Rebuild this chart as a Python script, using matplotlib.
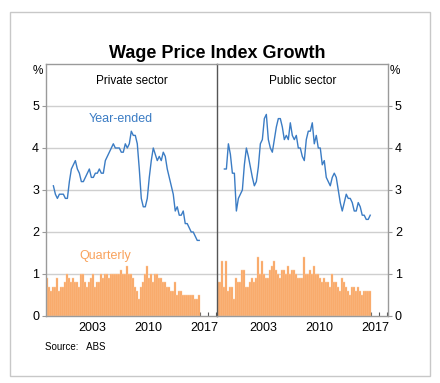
import numpy as np
import matplotlib.pyplot as plt
from matplotlib.patches import Rectangle

plt.rcParams['font.family'] = ['Liberation Sans', 'DejaVu Sans']

# year-ended growth, Sep 1998 to Dec 2016
private_ye = [3.1, 2.9, 2.8, 2.9, 2.9, 2.9, 2.8, 2.8, 3.2, 3.5,
              3.6, 3.7, 3.5, 3.4, 3.2, 3.2, 3.3, 3.4, 3.5, 3.3,
              3.3, 3.4, 3.4, 3.5, 3.4, 3.4, 3.7, 3.8, 3.9, 4.0,
              4.1, 4.0, 4.0, 4.0, 3.9, 3.9, 4.1, 4.0, 4.1, 4.4,
              4.3, 4.3, 4.1, 3.5, 2.8, 2.6, 2.6, 2.8, 3.3, 3.7,
              4.0, 3.85, 3.7, 3.8, 3.7, 3.9, 3.8, 3.5, 3.3, 3.1,
              2.9, 2.5, 2.6, 2.4, 2.4, 2.5, 2.2, 2.2, 2.1, 2.0,
              2.0, 1.9, 1.8, 1.8]
public_ye = [3.5, 3.5, 4.1, 3.85, 3.4, 3.4, 2.5, 2.8, 2.9, 3.0,
             3.6, 4.0, 3.8, 3.55, 3.3, 3.1, 3.2, 3.55, 4.1, 4.2,
             4.7, 4.8, 4.2, 4.0, 3.9, 4.2, 4.5, 4.7, 4.7, 4.5,
             4.2, 4.3, 4.2, 4.6, 4.3, 4.2, 4.3, 4.0, 4.0, 3.8,
             3.7, 4.2, 4.4, 4.4, 4.6, 4.1, 4.3, 4.0, 4.0, 3.6,
             3.7, 3.3, 3.2, 3.1, 3.3, 3.4, 3.3, 3.0, 2.7, 2.5,
             2.7, 2.9, 2.8, 2.8, 2.7, 2.5, 2.5, 2.7, 2.6, 2.4,
             2.4, 2.3, 2.3, 2.4]

# quarterly growth, Dec 1997 to Dec 2016
private_q = [0.9, 0.7, 0.6, 0.7, 0.7, 0.9, 0.6, 0.7, 0.7, 0.8,
             1.0, 0.9, 0.8, 0.9, 0.8, 0.8, 0.7, 1.0, 1.0, 0.8,
             0.7, 0.8, 0.9, 1.0, 0.7, 0.8, 0.8, 1.0, 0.9, 1.0,
             1.0, 0.9, 1.0, 1.0, 1.0, 1.0, 1.0, 1.1, 1.0, 1.0,
             1.2, 1.0, 1.0, 0.9, 0.7, 0.6, 0.4, 0.7, 0.8, 1.0,
             1.2, 0.9, 1.0, 0.8, 1.0, 1.0, 0.9, 0.9, 0.8, 0.8,
             0.7, 0.7, 0.6, 0.6, 0.8, 0.5, 0.6, 0.6, 0.5, 0.5,
             0.5, 0.5, 0.5, 0.5, 0.4, 0.4, 0.5]
public_q = [0.8, 0.8, 1.3, 0.7, 1.3, 0.6, 0.7, 0.7, 0.4, 0.9,
            0.8, 0.8, 1.1, 1.1, 0.7, 0.7, 0.8, 0.9, 0.8, 0.9,
            1.4, 1.0, 1.3, 1.0, 0.9, 0.9, 1.1, 1.2, 1.3, 1.1,
            1.0, 0.9, 1.1, 1.1, 1.0, 1.2, 1.0, 1.1, 1.1, 1.0,
            0.9, 0.9, 0.9, 1.4, 1.0, 1.0, 1.1, 1.0, 1.2, 1.0,
            1.0, 0.9, 0.8, 0.9, 0.8, 0.8, 0.7, 1.0, 0.8, 0.8,
            0.7, 0.6, 0.9, 0.8, 0.7, 0.6, 0.5, 0.7, 0.7, 0.6,
            0.7, 0.6, 0.5, 0.6, 0.6, 0.6, 0.6]

ye_dates = 1998.625 + 0.25 * np.arange(len(private_ye))
q_dates = 1997.875 + 0.25 * np.arange(len(private_q))

year_labels = ['2003', '2010', '2017']
panel_titles = ['Private sector', 'Public sector']

blue = '#3b7cc4'
orange = '#f9a25c'
grid_c = '#cfcfcf'
frame_c = '#9a9a9a'

fig = plt.figure(figsize=(4.4, 3.83), dpi=100)
W, H = 440, 383

# outer border
fig.patches.append(Rectangle((9.5 / W, 1 - 376 / H), (430 - 9.5) / W, (376 - 12) / H,
                             transform=fig.transFigure, fill=False,
                             edgecolor='#c8c8c8', linewidth=1.0))

bot = 1 - 316 / H
hgt = (316 - 64) / H
ax1 = fig.add_axes([46 / W, bot, (217 - 46) / W, hgt])
ax2 = fig.add_axes([217 / W, bot, (388 - 217) / W, hgt])

for ax, ye, q, title in [(ax1, private_ye, private_q, panel_titles[0]),
                         (ax2, public_ye, public_q, panel_titles[1])]:
    ax.bar(q_dates, q, width=0.25, color=orange, edgecolor='#fcd0aa',
           linewidth=0.3, zorder=2)
    ax.plot(ye_dates, ye, color=blue, linewidth=1.0, zorder=3)
    ax.set_xlim(1997.7, 2019.1)
    ax.set_ylim(0, 6)
    for g in range(1, 6):
        ax.axhline(g, color=grid_c, linewidth=1.0, zorder=1)
    ax.set_yticks(range(0, 6))
    ax.set_yticklabels([str(v) for v in range(0, 6)], fontsize=9)
    ax.set_xticks([2003.5, 2010.5, 2017.5])
    ax.set_xticklabels(year_labels, fontsize=9)
    ax.set_xticks(np.arange(1998, 2020), minor=True)
    ax.tick_params(axis='x', which='major', length=0, pad=4)
    ax.tick_params(axis='x', which='minor', direction='in', length=3,
                   width=0.8, color='#555555')
    ax.tick_params(axis='y', length=3, width=0.8, color=frame_c, pad=2)
    for s in ax.spines.values():
        s.set_color(frame_c)
        s.set_linewidth(1.0)
    ax.text(0.5, 0.955, title, transform=ax.transAxes, ha='center', va='top',
            fontsize=8.5)

ax1.spines['right'].set_visible(False)
ax2.spines['left'].set_color('#555555')
ax2.yaxis.tick_right()

ax1.text(2007.1, 4.7, 'Year-ended', color=blue, fontsize=9, ha='center', va='center')
ax1.text(2005.1, 1.43, 'Quarterly', color=orange, fontsize=9, ha='center', va='center')

fig.text(38 / W, 1 - 71 / H, '%', fontsize=8.5, ha='center', va='center')
fig.text(395 / W, 1 - 71 / H, '%', fontsize=8.5, ha='center', va='center')

fig.text(217 / W, 1 - 53 / H, 'Wage Price Index Growth', fontsize=13,
         fontweight='bold', ha='center', va='center')
fig.text(45 / W, 1 - 347 / H, 'Source:   ABS', fontsize=7, ha='left', va='center')

fig.savefig('out.png', dpi=100)
